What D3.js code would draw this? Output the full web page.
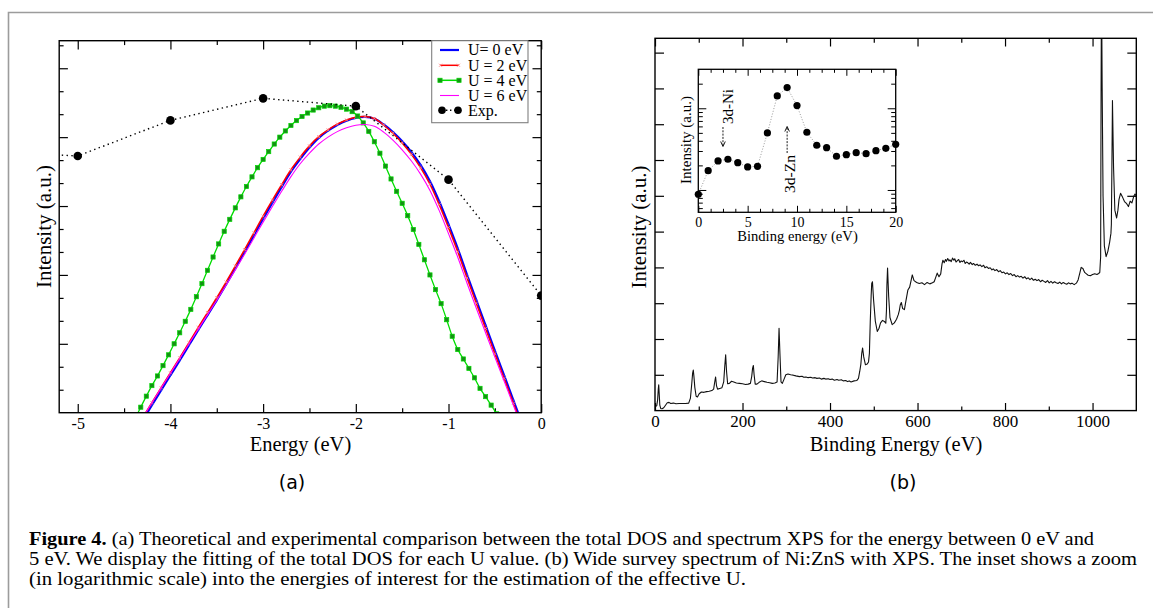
<!DOCTYPE html>
<html><head><meta charset="utf-8">
<script src="https://cdn.jsdelivr.net/npm/d3@7"></script>
<style>body{margin:0;background:#fff}svg{display:block}</style>
</head><body>
<svg id="c" width="1153" height="608"></svg>
<script>
// ---------- Panel (a) data ----------
const eU4 = [-4.38,-4.32,-4.26,-4.20,-4.14,-4.08,-4.02,-3.96,-3.90,-3.84,-3.78,-3.72,-3.66,-3.60,-3.54,-3.48,-3.42,-3.36,-3.30,-3.24,-3.18,-3.12,-3.06,-3.00,-2.94,-2.88,-2.82,-2.76,-2.70,-2.64,-2.58,-2.52,-2.46,-2.40,-2.34,-2.28,-2.22,-2.16,-2.10,-2.04,-1.98,-1.92,-1.86,-1.80,-1.74,-1.68,-1.62,-1.56,-1.50,-1.44,-1.38,-1.32,-1.26,-1.20,-1.14,-1.08,-1.02,-0.96,-0.90,-0.84,-0.78,-0.72,-0.66,-0.60,-0.54,-0.48,-0.42];
const iU4 = [-0.25,0.24,0.72,1.18,1.60,2.05,2.52,3.00,3.48,3.98,4.50,5.05,5.62,6.20,6.78,7.35,7.90,8.42,8.92,9.40,9.85,10.27,10.67,11.03,11.37,11.70,12.00,12.27,12.51,12.72,12.90,13.05,13.18,13.28,13.35,13.37,13.35,13.30,13.22,13.11,12.92,12.62,12.25,11.80,11.30,10.74,10.18,9.64,9.12,8.58,7.98,7.33,6.66,6.00,5.36,4.75,4.05,3.33,2.75,2.34,1.93,1.52,1.06,0.70,0.33,-0.05,-0.45];
const eDos = [-4.3,-4.2,-4.1,-4.0,-3.9,-3.8,-3.7,-3.6,-3.5,-3.4,-3.3,-3.2,-3.1,-3.0,-2.9,-2.8,-2.7,-2.6,-2.5,-2.4,-2.3,-2.2,-2.1,-2.0,-1.9,-1.8,-1.7,-1.6,-1.5,-1.4,-1.3,-1.2,-1.1,-1.0,-0.9,-0.8,-0.7,-0.6,-0.5,-0.4,-0.3,-0.2];
const iU0 = [-0.33,0.33,0.98,1.63,2.28,2.94,3.60,4.25,4.90,5.58,6.28,6.99,7.72,8.45,9.15,9.83,10.50,11.05,11.55,11.97,12.28,12.53,12.72,12.84,12.88,12.80,12.55,12.22,11.82,11.35,10.78,10.08,9.20,8.20,7.15,6.00,4.90,3.80,2.70,1.62,0.54,-0.54];
const iU2 = [-0.22,0.44,1.09,1.74,2.39,3.05,3.71,4.36,5.01,5.69,6.39,7.10,7.83,8.56,9.26,9.93,10.58,11.13,11.62,12.02,12.32,12.57,12.75,12.87,12.90,12.81,12.53,12.17,11.75,11.25,10.66,9.95,9.06,8.06,7.01,5.87,4.77,3.67,2.57,1.49,0.41,-0.67];
const iU6 = [-0.22,0.43,1.08,1.72,2.36,3.00,3.64,4.27,4.90,5.55,6.22,6.90,7.60,8.30,8.98,9.64,10.28,10.84,11.30,11.70,12.00,12.24,12.41,12.52,12.55,12.47,12.22,11.87,11.45,10.96,10.38,9.68,8.80,7.80,6.77,5.64,4.55,3.48,2.42,1.38,0.32,-0.72];
const eExp = [-6,-5,-4,-3,-2,-1,0];
const iExp = [11.4,11.18,12.73,13.69,13.35,10.15,5.10];
const xTicksA = [-5,-4,-3,-2,-1,0];
const legendLabels = ["U= 0 eV","U = 2 eV","U = 4 eV","U = 6 eV","Exp."];

// ---------- Panel (b) data ----------
const specE = [0,2,4,6,7.5,8.5,9.5,11,13,16,20,24,28,32,36,42,48,55,62,70,77,81,84,86,87.5,89,91,94,97,101,106,112,118,124,130,134,136.5,138.5,140.5,143,148,153,157,159.5,161.5,163.5,166,170,175,180,186,193,200,207,213,218,221,223,224.8,226.5,229,233,238,244,250,256,262,268,274,279,281.5,283.5,285.5,288,291,295,299,304,310,316,322,330,336,340,345,350,356,360,366,370,376,380,386,390,396,400,405,410,416,420,426,430,436,440,444,448,455,461,465,468,470.5,472.5,474.5,477,481,485,488,490,492,494,495.3,497,499.5,503.5,508,512,515.5,520,525,527.5,529,530,531.5,534,537,542,547,552,556,558.5,560.5,563,566,570,574,578,582,585,588,592,598,604,610,616,622,628,634,638,641,645,649,653,656,658,661,664,666,669,672,674,677,680,683,685,688,691,694,697,700,703,706,709,712,715,718,721,725,728,732,736,739,743,747,751,754,758,762,766,770,773,777,781,785,789,793,797,801,805,809,813,817,821,825,829,833,837,841,845,849,853,857,861,865,869,873,877,881,885,889,893,897,901,905,909,913,917,921,925,929,933,937,941,945,949,953,958,963,967,971,974,978,982,986,990,995,1000,1005,1010,1014,1016.5,1018.5,1019.5,1020.5,1022,1024,1027,1031,1035,1039,1042,1043,1044,1045.5,1048,1051,1055,1058,1060.5,1064,1069,1073,1078,1082,1086,1090,1094,1097,1100];
const specI = [0.10,0.12,0.14,0.30,0.60,0.72,0.50,0.15,0.06,0.05,0.08,0.15,0.22,0.23,0.20,0.21,0.19,0.20,0.20,0.20,0.21,0.35,0.75,1.05,1.13,0.95,0.65,0.40,0.38,0.47,0.52,0.51,0.53,0.54,0.56,0.60,0.80,0.94,0.70,0.60,0.62,0.64,0.80,1.25,1.56,1.10,0.75,0.76,0.82,0.80,0.77,0.76,0.75,0.73,0.74,0.76,0.95,1.18,1.26,1.00,0.74,0.74,0.79,0.83,0.81,0.79,0.78,0.76,0.77,0.80,1.50,2.30,1.60,0.80,0.76,0.88,1.00,1.02,1.00,0.99,0.97,0.95,0.96,0.93,0.94,0.92,0.93,0.91,0.92,0.90,0.91,0.88,0.90,0.88,0.89,0.87,0.88,0.85,0.87,0.85,0.86,0.83,0.84,0.81,0.83,0.80,0.83,0.84,0.90,1.10,1.30,1.60,1.75,1.50,1.28,1.30,1.36,1.60,2.50,3.20,3.55,3.60,3.10,2.50,2.21,2.30,2.45,2.52,2.48,2.44,2.80,3.50,3.98,3.20,2.60,2.40,2.45,2.55,2.68,2.80,2.95,3.02,2.85,2.82,3.10,3.37,3.45,3.62,3.79,3.63,3.58,3.55,3.57,3.52,3.58,3.54,3.57,3.60,3.70,3.84,3.74,3.82,4.10,4.20,4.13,4.22,4.17,4.25,4.18,4.21,4.16,4.26,4.20,4.24,4.15,4.19,4.22,4.14,4.18,4.16,4.20,4.11,4.15,4.13,4.09,4.14,4.08,4.11,4.06,4.09,4.05,4.07,4.02,4.06,3.99,4.02,3.97,3.99,3.93,3.96,3.91,3.94,3.88,3.91,3.85,3.87,3.82,3.85,3.80,3.83,3.77,3.80,3.74,3.77,3.73,3.75,3.70,3.74,3.68,3.71,3.66,3.70,3.64,3.67,3.63,3.66,3.60,3.64,3.61,3.58,3.63,3.57,3.61,3.56,3.60,3.57,3.55,3.59,3.54,3.58,3.55,3.53,3.57,3.54,3.56,3.52,3.56,3.65,3.85,4.00,3.97,3.86,3.82,3.78,3.77,3.80,3.82,3.80,3.83,3.86,4.30,9.00,12.00,9.00,6.00,4.60,4.30,4.45,4.70,4.95,5.20,6.50,8.66,6.80,5.60,5.38,5.60,5.90,6.07,5.95,5.84,5.78,5.70,5.85,5.80,5.98,6.05,6.00,6.17];
const xTicksB = [0,200,400,600,800,1000];
// inset (log scale)
const inE = [0,1,2,3,4,5,6,7,8,9,10,11,12,13,14,15,16,17,18,19,20];
const inI = [886,1722,2265,2377,2160,1913,1950,4990,14160,17900,10790,5085,3525,3297,2587,2706,2864,2782,3028,3236,3622];
const xTicksIn = [0,5,10,15,20];

const captionLines = [
  ["Figure 4.", " (a) Theoretical and experimental comparison between the total DOS and spectrum XPS for the energy between 0 eV and"],
  ["", "5 eV. We display the fitting of the total DOS for each U value. (b) Wide survey spectrum of Ni:ZnS with XPS. The inset shows a zoom"],
  ["", "(in logarithmic scale) into the energies of interest for the estimation of the effective U."]
];

// ---------- drawing ----------
const SERIF = 'Liberation Serif, Times New Roman, serif';
const SANS = 'DejaVu Sans, Liberation Sans, sans-serif';
const svg = d3.select('#c');
svg.append('rect').attr('width',1153).attr('height',608).attr('fill','#fff');
svg.append('path').attr('d','M8.5,640V12.5H1170').attr('fill','none').attr('stroke','#9c9c9c').attr('stroke-width',1.6);

function axis(g, gen, values, size, fmt, pad, fs, sw){
  gen.tickValues(values).tickSize(size).tickSizeOuter(0).tickPadding(pad||0)
     .tickFormat(fmt || (()=>''));
  g.call(gen);
  g.attr('font-family',SERIF).attr('font-size',fs||16);
  g.select('.domain').remove();
  g.selectAll('line').attr('stroke','#000').attr('stroke-width',sw||1.2);
  g.selectAll('text').attr('font-family',SERIF).attr('font-size',fs||16).attr('fill','#000');
}
function frame(g, b, sw){
  g.append('rect').attr('x',b.x0).attr('y',b.y0).attr('width',b.x1-b.x0).attr('height',b.y1-b.y0)
   .attr('fill','none').attr('stroke','#000').attr('stroke-width',sw||1.4);
}
function clip(id,b){
  svg.append('clipPath').attr('id',id).append('rect').attr('x',b.x0).attr('y',b.y0).attr('width',b.x1-b.x0).attr('height',b.y1-b.y0);
}
const inRange=(lo,hi,st)=>{const r=[];for(let v=lo;v<=hi+1e-9;v+=st)r.push(+v.toFixed(4));return r;};

// ===== Panel (a) =====
const A = {x0:59.2, x1:541.2, y0:40.7, y1:412.7};
const xA = d3.scaleLinear().domain([-5.2,0]).range([A.x0,A.x1]);
const yA = d3.scaleLinear().domain([0,16.2]).range([A.y1,A.y0]);
clip('clipA',A);
const gA = svg.append('g');
const minorXA = inRange(-5,0,0.5).filter(v=>Math.abs(v-Math.round(v))>0.1);
const majorYA = [3,6,9,12,15];
const minorYA = inRange(1,16,1).filter(v=>v%3!==0);
axis(gA.append('g').attr('transform',`translate(0,${A.y1})`), d3.axisBottom(xA), xTicksA, -8.7, d=>String(d), 5.4, 16);
axis(gA.append('g').attr('transform',`translate(0,${A.y1})`), d3.axisBottom(xA), minorXA, -4.4);
axis(gA.append('g').attr('transform',`translate(0,${A.y0})`), d3.axisTop(xA), xTicksA, -8.7);
axis(gA.append('g').attr('transform',`translate(0,${A.y0})`), d3.axisTop(xA), minorXA, -4.4);
axis(gA.append('g').attr('transform',`translate(${A.x0},0)`), d3.axisLeft(yA), majorYA, -8.7);
axis(gA.append('g').attr('transform',`translate(${A.x0},0)`), d3.axisLeft(yA), minorYA, -4.4);
axis(gA.append('g').attr('transform',`translate(${A.x1},0)`), d3.axisRight(yA), majorYA, -8.7);
axis(gA.append('g').attr('transform',`translate(${A.x1},0)`), d3.axisRight(yA), minorYA, -4.4);

const curves = gA.append('g').attr('clip-path','url(#clipA)');
const lineA = d3.line().x(d=>xA(d[0])).y(d=>yA(d[1])).curve(d3.curveCatmullRom);
const zip=(a,b)=>a.map((v,i)=>[v,b[i]]);
const dU0=zip(eDos,iU0), dU2=zip(eDos,iU2), dU4=zip(eU4,iU4), dU6=zip(eDos,iU6), dEx=zip(eExp,iExp);

curves.append('path').datum(dU0).attr('d',lineA).attr('fill','none').attr('stroke','#0000ff').attr('stroke-width',2.2);
curves.selectAll('.m0').data(dU0).enter().append('circle').attr('cx',d=>xA(d[0])).attr('cy',d=>yA(d[1])).attr('r',1.1).attr('fill','#2a2aff');
curves.append('path').datum(dU2).attr('d',lineA).attr('fill','none').attr('stroke','#ff0000').attr('stroke-width',1.5);
curves.selectAll('.m2').data(dU2).enter().append('path')
  .attr('d',d=>{const x=xA(d[0]),y=yA(d[1]),s=1.6;return `M${x-s},${y-s}L${x+s},${y+s}M${x-s},${y+s}L${x+s},${y-s}`;})
  .attr('stroke','#ff8a8a').attr('stroke-width',0.8);
curves.append('path').datum(dU4).attr('d',lineA).attr('fill','none').attr('stroke','#00dd00').attr('stroke-width',1.3);
curves.selectAll('.m4').data(dU4).enter().append('rect')
  .attr('x',d=>xA(d[0])-2.1).attr('y',d=>yA(d[1])-2.1).attr('width',4.2).attr('height',4.2)
  .attr('fill','#168f16').attr('stroke','#00d800').attr('stroke-width',0.7);
curves.append('path').datum(dU6).attr('d',lineA).attr('fill','none').attr('stroke','#ff00ff').attr('stroke-width',1.1);
curves.append('path').datum(dEx).attr('d',d3.line().x(d=>xA(d[0])).y(d=>yA(d[1]))).attr('fill','none')
  .attr('stroke','#000').attr('stroke-width',1.4).attr('stroke-dasharray','1.4,3.4');
curves.selectAll('.mx').data(dEx).enter().append('circle').attr('cx',d=>xA(d[0])).attr('cy',d=>yA(d[1])).attr('r',4.3).attr('fill','#000');
frame(gA,A);

// legend
const L = gA.append('g');
L.append('rect').attr('x',431.7).attr('y',A.y0).attr('width',96.3).attr('height',82).attr('fill','#fff').attr('stroke','#808080').attr('stroke-width',1.1);
const rowY=[50,65.3,80.3,95.5,110.3];
const lcol=['#0000ff','#ff0000','#00dd00','#ff00ff','#000'];
legendLabels.forEach((t,i)=>{
  const y=rowY[i];
  if(i<4){
    L.append('line').attr('x1',440).attr('x2',459).attr('y1',y).attr('y2',y).attr('stroke',lcol[i]).attr('stroke-width',i===0?2.2:(i===3?1.1:1.5));
    if(i===2){[440,459].forEach(x=>L.append('rect').attr('x',x-2.1).attr('y',y-2.1).attr('width',4.2).attr('height',4.2).attr('fill','#168f16').attr('stroke','#00d800').attr('stroke-width',0.7));}
    if(i===1){[440.5,458.5].forEach(x=>L.append('path').attr('d',`M${x-1.6},${y-1.6}L${x+1.6},${y+1.6}M${x-1.6},${y+1.6}L${x+1.6},${y-1.6}`).attr('stroke','#ff8a8a').attr('stroke-width',0.8));}
  } else {
    L.append('line').attr('x1',442).attr('x2',458).attr('y1',y).attr('y2',y).attr('stroke','#000').attr('stroke-width',1.4).attr('stroke-dasharray','1.4,2.6');
    [442,458].forEach(x=>L.append('circle').attr('cx',x).attr('cy',y).attr('r',3.8).attr('fill','#000'));
  }
  L.append('text').attr('x',468).attr('y',y+5.4).text(t).attr('font-family',SERIF).attr('font-size',16).attr('fill','#000');
});

gA.append('text').attr('x',300.5).attr('y',451).attr('text-anchor','middle').text('Energy (eV)')
  .attr('font-family',SERIF).attr('font-size',20.5);
gA.append('text').attr('transform','translate(51,226.5) rotate(-90)').attr('text-anchor','middle').text('Intensity (a.u.)')
  .attr('font-family',SERIF).attr('font-size',21);
gA.append('text').attr('x',292).attr('y',489).attr('text-anchor','middle').text('(a)').attr('font-family',SANS).attr('font-size',19);

// ===== Panel (b) =====
const B = {x0:655, x1:1136.3, y0:38.3, y1:410.6};
const xB = d3.scaleLinear().domain([0,1100]).range([B.x0,B.x1]);
const yB = d3.scaleLinear().domain([0,10.4]).range([B.y1,B.y0]);
clip('clipB',B);
const gB = svg.append('g');
const minorXB=[100,300,500,700,900];
const yTicksB=inRange(1,10,1);
axis(gB.append('g').attr('transform',`translate(0,${B.y1})`), d3.axisBottom(xB), xTicksB, -7.6, d=>String(d), 4.8, 17);
axis(gB.append('g').attr('transform',`translate(0,${B.y1})`), d3.axisBottom(xB), minorXB, -4.2);
axis(gB.append('g').attr('transform',`translate(0,${B.y0})`), d3.axisTop(xB), xTicksB, -8.2);
axis(gB.append('g').attr('transform',`translate(0,${B.y0})`), d3.axisTop(xB), minorXB, -4.4);
axis(gB.append('g').attr('transform',`translate(${B.x0},0)`), d3.axisLeft(yB), yTicksB, -9);
axis(gB.append('g').attr('transform',`translate(${B.x1},0)`), d3.axisRight(yB), yTicksB, -9);
gB.append('g').attr('clip-path','url(#clipB)').append('path').datum(zip(specE,specI))
  .attr('d',d3.line().x(d=>xB(d[0])).y(d=>yB(d[1]))).attr('fill','none').attr('stroke','#111').attr('stroke-width',1.1).attr('stroke-linejoin','round');
frame(gB,B);
gB.append('text').attr('x',896).attr('y',450.5).attr('text-anchor','middle').text('Binding Energy (eV)')
  .attr('font-family',SERIF).attr('font-size',20.5);
gB.append('text').attr('transform','translate(645.5,227) rotate(-90)').attr('text-anchor','middle').text('Intensity (a.u.)')
  .attr('font-family',SERIF).attr('font-size',21);
gB.append('text').attr('x',903).attr('y',489).attr('text-anchor','middle').text('(b)').attr('font-family',SANS).attr('font-size',19);

// inset
const I = {x0:698.3, x1:895.7, y0:69.3, y1:212.3};
const xI = d3.scaleLinear().domain([0,20]).range([I.x0,I.x1]);
const yI = d3.scaleLog().domain([533,30000]).range([I.y1,I.y0]);
const gI = gB.append('g');
gI.append('rect').attr('x',I.x0).attr('y',I.y0).attr('width',I.x1-I.x0).attr('height',I.y1-I.y0).attr('fill','#fff');
const minorXI = inRange(0,20,1.25).filter(v=>v%5!==0);
const majYI=[1000,10000];
const minYI=[600,700,800,900,2000,3000,4000,5000,6000,7000,8000,9000,20000];
axis(gI.append('g').attr('transform',`translate(0,${I.y1})`), d3.axisBottom(xI), xTicksIn, -6.5, d=>String(d), 4.5, 14, 1);
axis(gI.append('g').attr('transform',`translate(0,${I.y1})`), d3.axisBottom(xI), minorXI, -3.5, null, 0, 14, 1);
axis(gI.append('g').attr('transform',`translate(0,${I.y0})`), d3.axisTop(xI), xTicksIn, -6.5, null, 0, 14, 1);
axis(gI.append('g').attr('transform',`translate(0,${I.y0})`), d3.axisTop(xI), minorXI, -3.5, null, 0, 14, 1);
axis(gI.append('g').attr('transform',`translate(${I.x0},0)`), d3.axisLeft(yI), majYI, -8, null, 0, 14, 1);
axis(gI.append('g').attr('transform',`translate(${I.x0},0)`), d3.axisLeft(yI), minYI, -4.5, null, 0, 14, 1);
axis(gI.append('g').attr('transform',`translate(${I.x1},0)`), d3.axisRight(yI), majYI, -8, null, 0, 14, 1);
axis(gI.append('g').attr('transform',`translate(${I.x1},0)`), d3.axisRight(yI), minYI, -4.5, null, 0, 14, 1);
const dIn = zip(inE,inI);
gI.append('path').datum(dIn).attr('d',d3.line().x(d=>xI(d[0])).y(d=>yI(d[1]))).attr('fill','none')
  .attr('stroke','#9a9a9a').attr('stroke-width',1).attr('stroke-dasharray','1,1.8');
gI.selectAll('.pi').data(dIn).enter().append('circle').attr('cx',d=>xI(d[0])).attr('cy',d=>yI(d[1])).attr('r',3.6).attr('fill','#000');
frame(gI,I,1.3);
// annotations
const xNi=xI(2.5), xZn=xI(9);
gI.append('line').attr('x1',xNi).attr('x2',xNi).attr('y1',127).attr('y2',146).attr('stroke','#000').attr('stroke-width',0.9).attr('stroke-dasharray','2,1.3');
gI.append('path').attr('d',`M${xNi-2.3},${141.5}L${xNi},${146.5}L${xNi+2.3},${141.5}`).attr('fill','none').attr('stroke','#000').attr('stroke-width',0.9);
gI.append('text').attr('transform',`translate(733,106.5) rotate(-90)`).attr('text-anchor','middle').text('3d-Ni').attr('font-family',SERIF).attr('font-size',15);
gI.append('line').attr('x1',xZn).attr('x2',xZn).attr('y1',153).attr('y2',126.5).attr('stroke','#000').attr('stroke-width',0.9).attr('stroke-dasharray','2,1.3');
gI.append('path').attr('d',`M${xZn-2.3},${131.5}L${xZn},${126.5}L${xZn+2.3},${131.5}`).attr('fill','none').attr('stroke','#000').attr('stroke-width',0.9);
gI.append('text').attr('transform',`translate(794.5,174) rotate(-90)`).attr('text-anchor','middle').text('3d-Zn').attr('font-family',SERIF).attr('font-size',15.5);
gI.append('text').attr('transform','translate(691,140) rotate(-90)').attr('text-anchor','middle').text('Intensity (a.u.)').attr('font-family',SERIF).attr('font-size',15);
gI.append('text').attr('x',797.5).attr('y',240.5).attr('text-anchor','middle').text('Binding energy (eV)').attr('font-family',SERIF).attr('font-size',14.6);

// ===== caption =====
const capY=[545,565,585], capW=[1065,1108,717];
captionLines.forEach((ln,i)=>{
  const t=svg.append('text').attr('x',29).attr('y',capY[i]).attr('font-family',SERIF).attr('font-size',19).attr('fill','#000')
    .attr('textLength',capW[i]).attr('lengthAdjust','spacingAndGlyphs');
  if(ln[0]) t.append('tspan').attr('font-weight','bold').text(ln[0]);
  t.append('tspan').text(ln[1]);
});
</script>
</body></html>
